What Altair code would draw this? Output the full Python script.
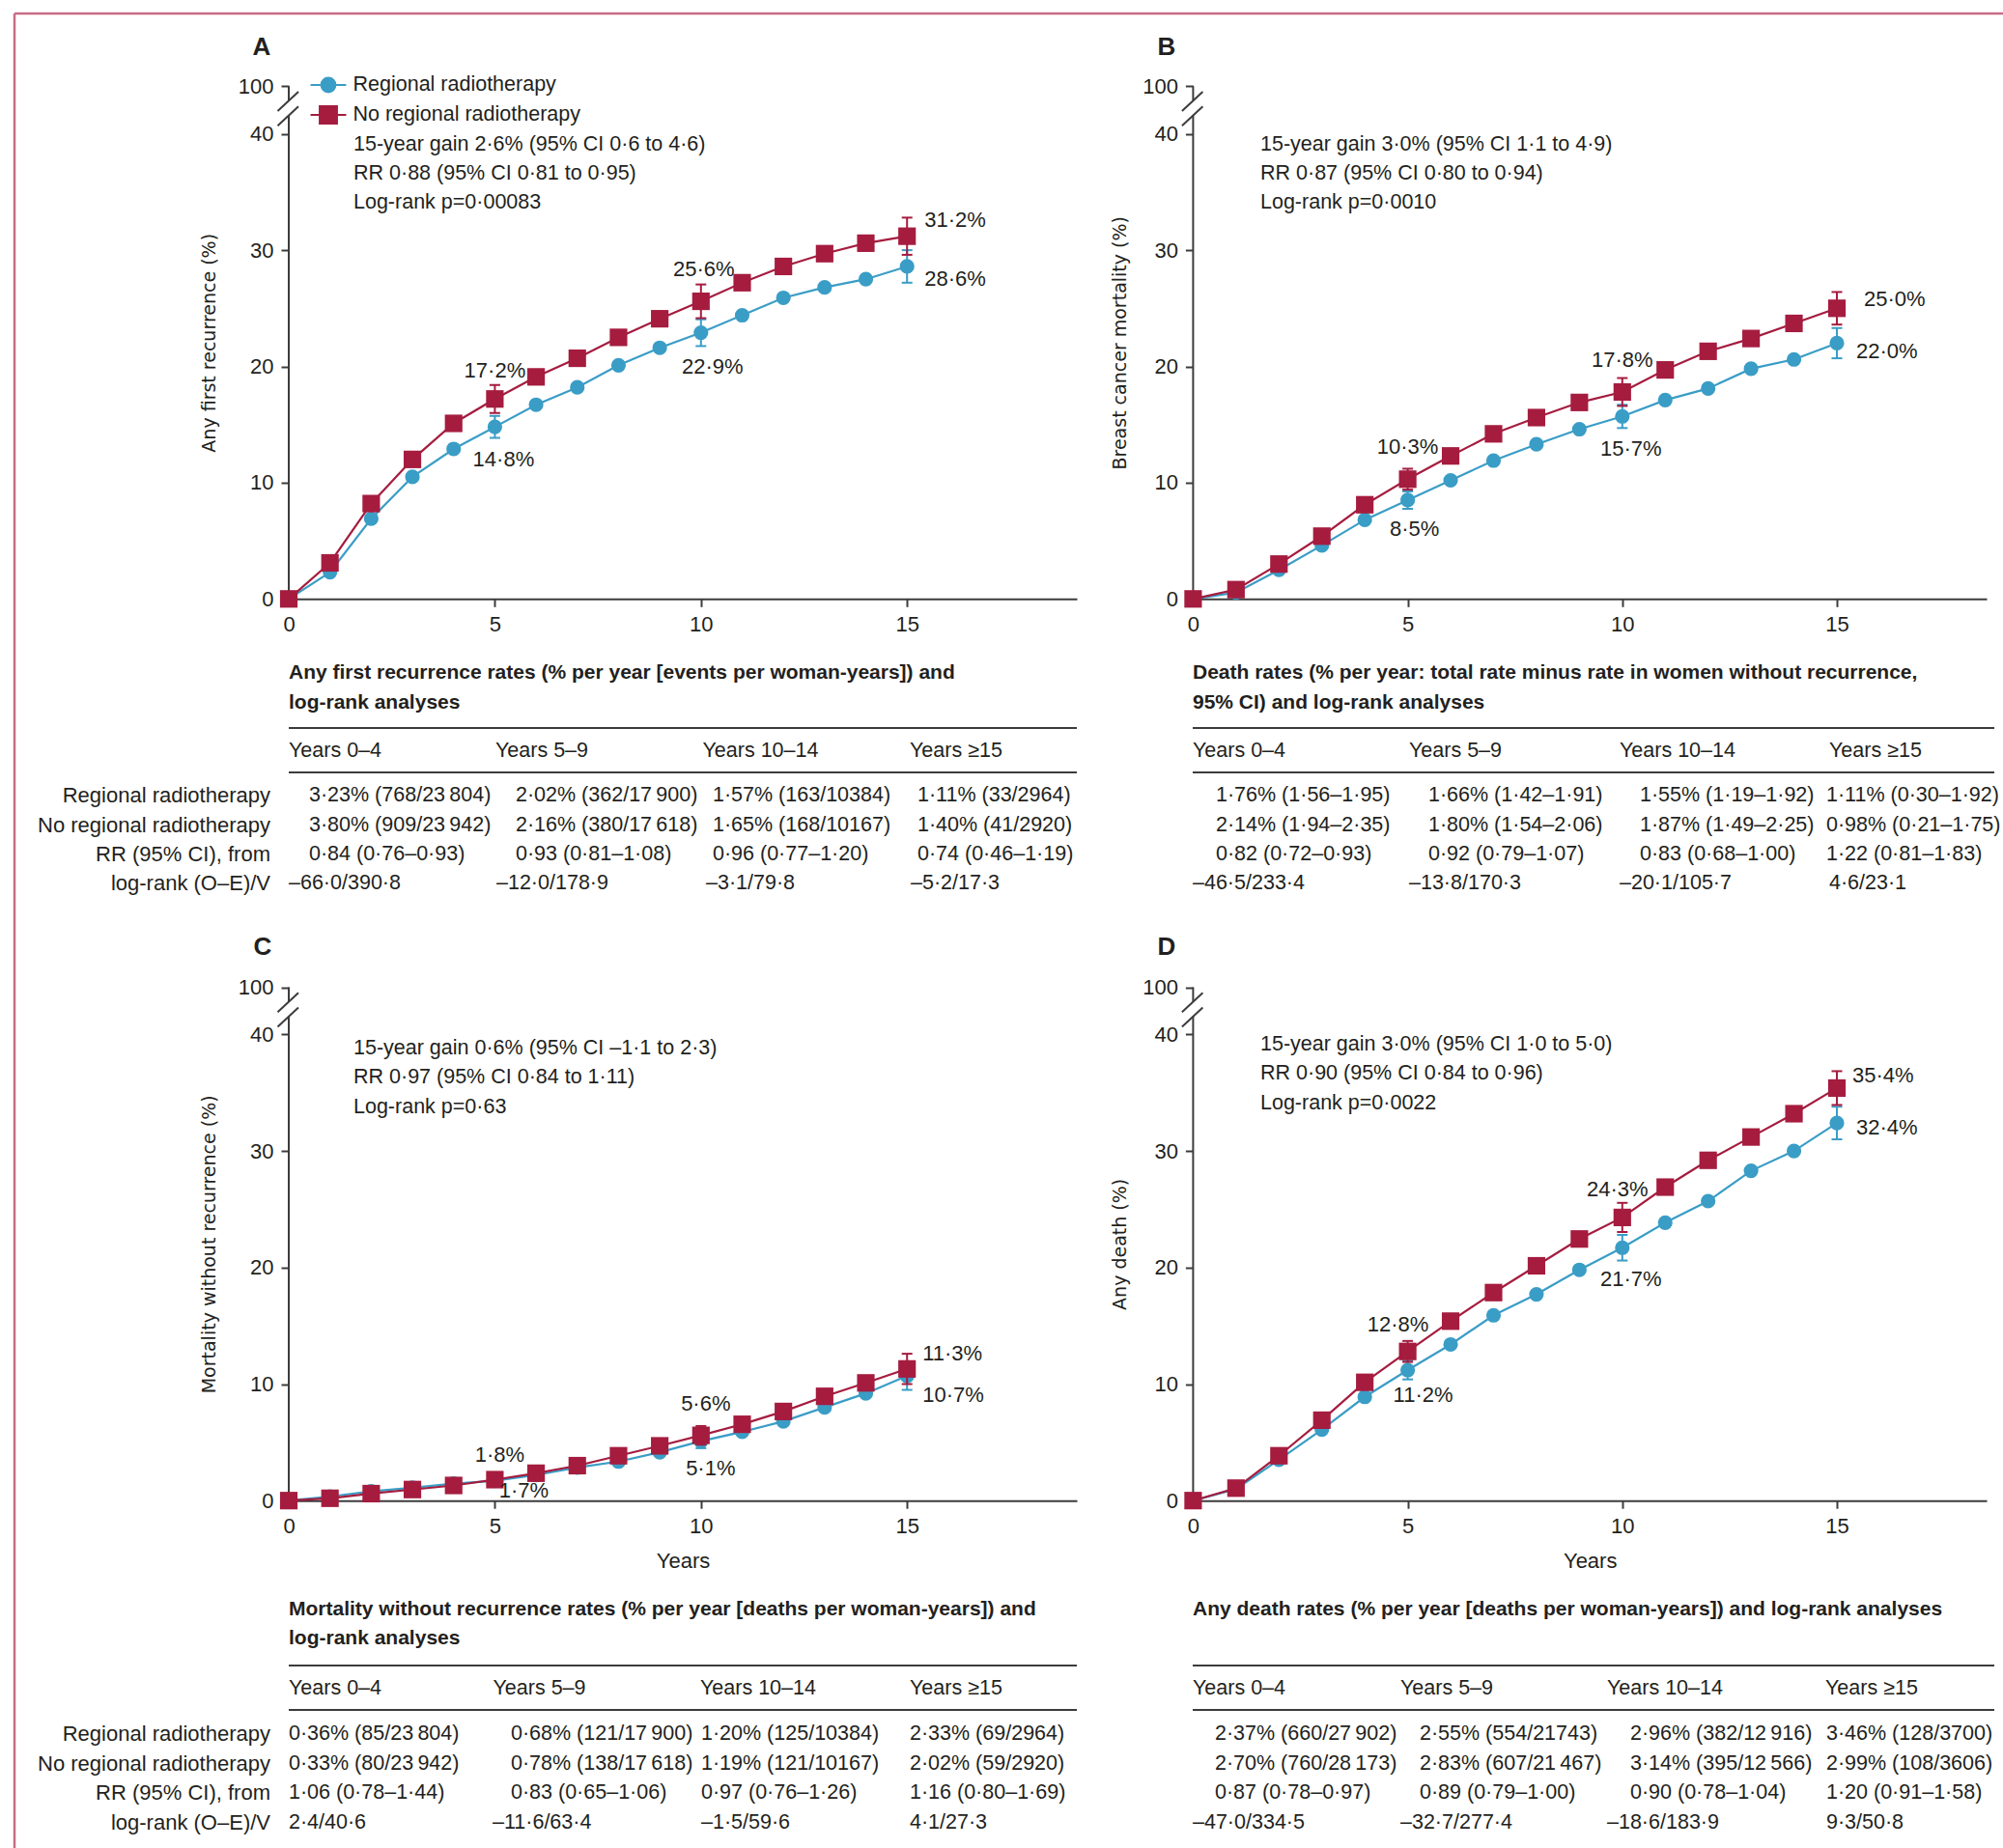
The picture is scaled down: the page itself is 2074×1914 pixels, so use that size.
import altair as alt
import pandas as pd

PAGE_W, PAGE_H = 2074, 1914

SERIES = ["Regional radiotherapy", "No regional radiotherapy"]
BLUE = "#3a9dc6"
RED = "#a51c3f"
SERIES_COLORS = [BLUE, RED]
INK = "#231f20"
AXIS_INK = "#3c3c3c"
BORDER = "#c96b86"
FONT = "Liberation Sans"
YFONT = "DejaVu Sans"

YEARS = list(range(16))
CI_YEARS = [5, 10, 15]

# A: any first recurrence (%)
A_RT = [0, 2.3, 6.9, 10.5, 12.9, 14.8, 16.7, 18.2, 20.1, 21.6, 22.9, 24.4, 25.9, 26.8, 27.5, 28.6]
A_NO = [0, 3.1, 8.2, 12.0, 15.1, 17.2, 19.1, 20.7, 22.5, 24.1, 25.6, 27.2, 28.6, 29.7, 30.6, 31.2]
A_RT_HW = [0.95, 1.15, 1.4]
A_NO_HW = [1.2, 1.45, 1.6]

# B: breast cancer mortality (%)
B_RT = [0, 0.55, 2.5, 4.6, 6.8, 8.5, 10.2, 11.9, 13.3, 14.6, 15.7, 17.1, 18.1, 19.8, 20.6, 22.0]
B_NO = [0, 0.8, 3.0, 5.4, 8.1, 10.3, 12.3, 14.2, 15.6, 16.9, 17.8, 19.7, 21.3, 22.4, 23.7, 25.0]
B_RT_HW = [0.75, 1.0, 1.3]
B_NO_HW = [0.9, 1.2, 1.4]

# C: mortality without recurrence (%)
C_RT = [0, 0.35, 0.8, 1.1, 1.45, 1.7, 2.2, 2.85, 3.35, 4.15, 5.1, 5.9, 6.8, 8.0, 9.2, 10.7]
C_NO = [0, 0.2, 0.6, 0.95, 1.3, 1.8, 2.35, 3.0, 3.85, 4.7, 5.6, 6.55, 7.65, 8.95, 10.1, 11.3]
C_RT_HW = [0.3, 0.6, 1.2]
C_NO_HW = [0.3, 0.8, 1.3]

# D: any death (%)
D_RT = [0, 1.0, 3.5, 6.1, 8.9, 11.2, 13.4, 15.9, 17.7, 19.8, 21.7, 23.85, 25.7, 28.3, 30.0, 32.4]
D_NO = [0, 1.07, 3.85, 6.9, 10.15, 12.8, 15.4, 17.85, 20.15, 22.45, 24.3, 26.9, 29.2, 31.2, 33.2, 35.4]
D_RT_HW = [0.8, 1.1, 1.4]
D_NO_HW = [0.9, 1.25, 1.45]

A_STATS = ["15-year gain 2·6% (95% CI 0·6 to 4·6)", "RR 0·88 (95% CI 0·81 to 0·95)", "Log-rank p=0·00083"]
B_STATS = ["15-year gain 3·0% (95% CI 1·1 to 4·9)", "RR 0·87 (95% CI 0·80 to 0·94)", "Log-rank p=0·0010"]
C_STATS = ["15-year gain 0·6% (95% CI –1·1 to 2·3)", "RR 0·97 (95% CI 0·84 to 1·11)", "Log-rank p=0·63"]
D_STATS = ["15-year gain 3·0% (95% CI 1·0 to 5·0)", "RR 0·90 (95% CI 0·84 to 0·96)", "Log-rank p=0·0022"]

PERIODS = ["Years 0–4", "Years 5–9", "Years 10–14", "Years ≥15"]
ROW_LABELS = ["Regional radiotherapy", "No regional radiotherapy", "RR (95% CI), from", "log-rank (O–E)/V"]

A_TITLE = ["Any first recurrence rates (% per year [events per woman-years]) and", "log-rank analyses"]
A_ROWS = [
    ["3·23% (768/23\u2009804)", "2·02% (362/17\u2009900)", "1·57% (163/10384)", "1·11% (33/2964)"],
    ["3·80% (909/23\u2009942)", "2·16% (380/17\u2009618)", "1·65% (168/10167)", "1·40% (41/2920)"],
    ["0·84 (0·76–0·93)", "0·93 (0·81–1·08)", "0·96 (0·77–1·20)", "0·74 (0·46–1·19)"],
    ["–66·0/390·8", "–12·0/178·9", "–3·1/79·8", "–5·2/17·3"],
]
B_TITLE = ["Death rates (% per year: total rate minus rate in women without recurrence,", "95% CI) and log-rank analyses"]
B_ROWS = [
    ["1·76% (1·56–1·95)", "1·66% (1·42–1·91)", "1·55% (1·19–1·92)", "1·11% (0·30–1·92)"],
    ["2·14% (1·94–2·35)", "1·80% (1·54–2·06)", "1·87% (1·49–2·25)", "0·98% (0·21–1·75)"],
    ["0·82 (0·72–0·93)", "0·92 (0·79–1·07)", "0·83 (0·68–1·00)", "1·22 (0·81–1·83)"],
    ["–46·5/233·4", "–13·8/170·3", "–20·1/105·7", "4·6/23·1"],
]
C_TITLE = ["Mortality without recurrence rates (% per year [deaths per woman-years]) and", "log-rank analyses"]
C_ROWS = [
    ["0·36% (85/23\u2009804)", "0·68% (121/17\u2009900)", "1·20% (125/10384)", "2·33% (69/2964)"],
    ["0·33% (80/23\u2009942)", "0·78% (138/17\u2009618)", "1·19% (121/10167)", "2·02% (59/2920)"],
    ["1·06 (0·78–1·44)", "0·83 (0·65–1·06)", "0·97 (0·76–1·26)", "1·16 (0·80–1·69)"],
    ["2·4/40·6", "–11·6/63·4", "–1·5/59·6", "4·1/27·3"],
]
D_TITLE = ["Any death rates (% per year [deaths per woman-years]) and log-rank analyses"]
D_ROWS = [
    ["2·37% (660/27\u2009902)", "2·55% (554/21743)", "2·96% (382/12\u2009916)", "3·46% (128/3700)"],
    ["2·70% (760/28\u2009173)", "2·83% (607/21\u2009467)", "3·14% (395/12\u2009566)", "2·99% (108/3606)"],
    ["0·87 (0·78–0·97)", "0·89 (0·79–1·00)", "0·90 (0·78–1·04)", "1·20 (0·91–1·58)"],
    ["–47·0/334·5", "–32·7/277·4", "–18·6/183·9", "9·3/50·8"],
]

# ---- page layout (pixels) -------------------------------------------------
GEOM = {
    "A": dict(x0=299, x1=1115, ppx=42.68, y0=620.3, ppy=12.04, top=89.3),
    "B": dict(x0=1235.4, x1=2057, ppx=44.44, y0=620.3, ppy=12.04, top=89.3),
    "C": dict(x0=299, x1=1115, ppx=42.68, y0=1554.2, ppy=12.07, top=1022.5),
    "D": dict(x0=1235.4, x1=2057, ppx=44.44, y0=1554.2, ppy=12.07, top=1022.5),
}
LETTERS = {"A": (271, 49), "B": (1208, 49), "C": (272, 981), "D": (1208, 981)}
STATS_POS = {"A": (366, 149.5), "B": (1305, 149.5), "C": (366, 1086), "D": (1305, 1082)}
STATS_STEP = 30.4
TEXT_SIZE = 21.5

TABLES = {
    "A": dict(title_y=[697, 727.5], rule_y=[754, 800], xl=299, xr=1115, head_y=778,
              row_y=[824, 854.5, 885, 915], head_x=[299, 513, 727.5, 942],
              cell_x=[320, 534, 738, 950], last_x=[299, 514, 731, 943], label_x=280),
    "B": dict(title_y=[697, 727.5], rule_y=[754, 800], xl=1235, xr=2065, head_y=778,
              row_y=[824, 854.5, 885, 915], head_x=[1235, 1459, 1677, 1894],
              cell_x=[1259, 1479, 1698, 1891], last_x=[1235, 1459, 1677, 1894], label_x=None),
    "C": dict(title_y=[1667, 1697], rule_y=[1725, 1771], xl=299, xr=1115, head_y=1749,
              row_y=[1796, 1827, 1857, 1887.5], head_x=[299, 510.5, 725, 942],
              cell_x=[299, 529, 726, 942], last_x=[299, 510, 726, 942], label_x=280),
    "D": dict(title_y=[1667], rule_y=[1725, 1771], xl=1235, xr=2065, head_y=1749,
              row_y=[1796, 1827, 1857, 1887.5], head_x=[1235, 1450, 1664, 1890],
              cell_x=[1258, 1470, 1688, 1891], last_x=[1235, 1450, 1664, 1891], label_x=None),
}

# value-label offsets (dx, dy, align) keyed by (year, series index)
OFFS = {
    "A": {(5, 1): (0, -29, "center"), (5, 0): (9, 34, "center"), (10, 1): (3, -33, "center"),
          (10, 0): (12, 35, "center"), (15, 1): (18, -17, "left"), (15, 0): (18, 13, "left")},
    "B": {(5, 1): (0, -33, "center"), (5, 0): (7, 30, "center"), (10, 1): (0, -33, "center"),
          (10, 0): (9, 34, "center"), (15, 1): (28, -9, "left"), (15, 0): (20, 9, "left")},
    "C": {(5, 1): (5, -25, "center"), (5, 0): (30, 10, "center"), (10, 1): (5, -33, "center"),
          (10, 0): (10, 28, "center"), (15, 1): (16, -16, "left"), (15, 0): (16, 20, "left")},
    "D": {(5, 1): (-10, -28, "center"), (5, 0): (16, 26, "center"), (10, 1): (-5, -29, "center"),
          (10, 0): (9, 33, "center"), (15, 1): (16, -13, "left"), (15, 0): (20, 5, "left")},
}

# legend symbols: a short line through the marker
CIRCLE_PATH = "M-1.42,0H1.42M0.56,0A0.56,0.56,0,1,1,-0.56,0A0.56,0.56,0,1,1,0.56,0Z"
SQUARE_PATH = "M-1.42,0H1.42M-0.68,-0.68H0.68V0.68H-0.68Z"


def pct(v):
    return f"{v:.1f}".replace(".", "·") + "%"


def panel(key, rt, no, hw_rt, hw_no, ytitle, xtitle, title_pad, with_legend=False):
    g = GEOM[key]
    xmax = (g["x1"] - g["x0"]) / g["ppx"]
    ytop = (g["y0"] - g["top"]) / g["ppy"]
    xs = alt.Scale(domain=[0, xmax], range=[g["x0"], g["x1"]], nice=False, zero=False)
    ys = alt.Scale(domain=[0, ytop], range=[g["y0"], g["top"]], nice=False, zero=False)

    x_axis = alt.Axis(orient="bottom", offset=g["y0"] - PAGE_H, values=[0, 5, 10, 15], format="d",
                      labelFlush=False, labelOverlap=False, grid=False,
                      tickSize=8, tickWidth=2, tickColor=AXIS_INK,
                      domainColor=AXIS_INK, domainWidth=2,
                      labelFont=FONT, labelFontSize=22, labelColor=INK, labelPadding=8,
                      titleFont=FONT, titleFontSize=22, titleFontWeight="normal",
                      titleColor=INK, titlePadding=15)
    y_axis = alt.Axis(orient="left", offset=-g["x0"], values=[0, 10, 20, 30, 40, ytop], format="d",
                      labelExpr="datum.value > 41 ? '100' : datum.label",
                      labelOverlap=False, labelFlush=False, grid=False, domain=False,
                      tickSize=8, tickWidth=2, tickColor=AXIS_INK,
                      labelFont=FONT, labelFontSize=22, labelColor=INK, labelPadding=8,
                      titleFont=YFONT, titleFontSize=19, titleFontWeight="normal",
                      titleColor=INK, titlePadding=title_pad)

    def X(f="year", axis=None, **kw):
        return alt.X(f"{f}:Q", scale=xs, axis=axis, **kw)

    def Y(f="risk", axis=None, **kw):
        return alt.Y(f"{f}:Q", scale=ys, axis=axis, **kw)

    curves = pd.DataFrame({
        "year": YEARS * 2,
        "risk": rt + no,
        "series": [SERIES[0]] * len(YEARS) + [SERIES[1]] * len(YEARS),
        "sidx": [0] * len(YEARS) + [1] * len(YEARS),
    })
    err = pd.DataFrame({
        "year": CI_YEARS * 2,
        "lo": [rt[y] - h for y, h in zip(CI_YEARS, hw_rt)] + [no[y] - h for y, h in zip(CI_YEARS, hw_no)],
        "hi": [rt[y] + h for y, h in zip(CI_YEARS, hw_rt)] + [no[y] + h for y, h in zip(CI_YEARS, hw_no)],
        "sidx": [0] * 3 + [1] * 3,
    })
    labels = pd.DataFrame({
        "year": CI_YEARS * 2,
        "risk": [rt[y] for y in CI_YEARS] + [no[y] for y in CI_YEARS],
        "label": [pct(rt[y]) for y in CI_YEARS] + [pct(no[y]) for y in CI_YEARS],
        "sidx": [0] * 3 + [1] * 3,
    })

    layers = []
    # y axis line, interrupted by the scale break
    gap_lo = ytop - 30 / g["ppy"]
    gap_hi = ytop - 14.6 / g["ppy"]
    axis_line = pd.DataFrame({"x": [0, 0], "y": [0, gap_hi], "y2": [gap_lo, ytop]})
    layers.append(alt.Chart(axis_line).mark_rule(color=AXIS_INK, strokeWidth=2).encode(
        x=X("x"), y=Y("y"), y2="y2:Q"))
    slash = pd.DataFrame({
        "x": [-11.5 / g["ppx"]] * 2, "x2": [10 / g["ppx"]] * 2,
        "y": [ytop - 25.7 / g["ppy"], ytop - 41.0 / g["ppy"]],
        "y2": [ytop - 5.7 / g["ppy"], ytop - 21.0 / g["ppy"]],
    })
    layers.append(alt.Chart(slash).mark_rule(color=AXIS_INK, strokeWidth=2).encode(
        x=X("x"), x2="x2:Q", y=Y("y"), y2="y2:Q"))

    # curves; the first one carries both axes
    for s in (0, 1):
        cur = curves[curves.sidx == s]
        if s == 0:
            enc = dict(x=X("year", axis=x_axis, title=xtitle), y=Y("risk", axis=y_axis, title=ytitle))
        else:
            enc = dict(x=X(), y=Y())
        layers.append(alt.Chart(cur).mark_line(strokeWidth=2.2, color=SERIES_COLORS[s]).encode(**enc))

    for s in (0, 1):
        e = err[err.sidx == s]
        col = SERIES_COLORS[s]
        layers.append(alt.Chart(e).mark_rule(strokeWidth=2, color=col).encode(
            x=X(), y=Y("lo"), y2="hi:Q"))
        layers.append(alt.Chart(e).transform_fold(["lo", "hi"], as_=["end", "val"]).mark_tick(
            orient="horizontal", size=11, thickness=2, color=col, opacity=1).encode(
            x=X(), y=Y("val")))
        pts = curves[curves.sidx == s]
        if s == 0:
            mk = alt.Chart(pts).mark_point(shape="circle", filled=True, size=230, color=BLUE, opacity=1)
        else:
            mk = alt.Chart(pts).mark_point(shape="square", filled=True, size=330, color=RED, opacity=1)
        layers.append(mk.encode(x=X(), y=Y()))

    for (yr, s), (dx, dy, align) in OFFS[key].items():
        layers.append(alt.Chart(labels).transform_filter(
            f"datum.year == {yr} && datum.sidx == {s}").mark_text(
            align=align, baseline="middle", dx=dx, dy=dy, font=FONT, fontSize=22, color=INK).encode(
            x=X(), y=Y(), text="label:N"))

    if with_legend:
        leg = alt.Legend(orient="none", legendX=325.5, legendY=73.5, title=None, padding=0,
                         labelFont=FONT, labelFontSize=TEXT_SIZE, labelColor=INK, labelOffset=11,
                         labelLimit=600, symbolSize=676, symbolStrokeWidth=2.2, symbolOpacity=1,
                         rowPadding=4)
        layers.append(alt.Chart(curves).transform_filter("false").mark_point(
            filled=True, size=676, strokeWidth=2.2, opacity=1).encode(
            shape=alt.Shape("series:N", scale=alt.Scale(domain=SERIES, range=[CIRCLE_PATH, SQUARE_PATH]), legend=leg),
            fill=alt.Fill("series:N", scale=alt.Scale(domain=SERIES, range=SERIES_COLORS), legend=leg),
            stroke=alt.Stroke("series:N", scale=alt.Scale(domain=SERIES, range=SERIES_COLORS), legend=leg),
        ))
    return layers


layers = []
layers += panel("A", A_RT, A_NO, A_RT_HW, A_NO_HW, "Any first recurrence (%)", None, 20, with_legend=True)
layers += panel("B", B_RT, B_NO, B_RT_HW, B_NO_HW, "Breast cancer mortality (%)", None, 13)
layers += panel("C", C_RT, C_NO, C_RT_HW, C_NO_HW, "Mortality without recurrence (%)", "Years", 20)
layers += panel("D", D_RT, D_NO, D_RT_HW, D_NO_HW, "Any death (%)", "Years", 13)

# ---- page-positioned text: letters, statistics, tables --------------------
PX = alt.Scale(domain=[0, PAGE_W], range=[0, PAGE_W], nice=False, zero=False)
PY = alt.Scale(domain=[0, PAGE_H], range=[0, PAGE_H], nice=False, zero=False)

regular, right, bold, letters, rules = [], [], [], [], []
for key, stats in zip("ABCD", [A_STATS, B_STATS, C_STATS, D_STATS]):
    sx, sy = STATS_POS[key]
    for i, line in enumerate(stats):
        regular.append((sx, sy + i * STATS_STEP, line))
    lx, ly = LETTERS[key]
    letters.append((lx, ly, key))

for key, title, rows in zip("ABCD", [A_TITLE, B_TITLE, C_TITLE, D_TITLE], [A_ROWS, B_ROWS, C_ROWS, D_ROWS]):
    t = TABLES[key]
    for ty, line in zip(t["title_y"], title):
        bold.append((t["xl"], ty, line))
    for ry in t["rule_y"]:
        rules.append((t["xl"], t["xr"], ry, ry))
    for hx, head in zip(t["head_x"], PERIODS):
        regular.append((hx, t["head_y"], head))
    for r, (ry, cells) in enumerate(zip(t["row_y"], rows)):
        xs_ = t["last_x"] if r == len(rows) - 1 else t["cell_x"]
        for cx, cell in zip(xs_, cells):
            regular.append((cx, ry, cell))
        if t["label_x"] is not None:
            right.append((t["label_x"], ry, ROW_LABELS[r]))


def page_text(rows, align, weight, size):
    df = pd.DataFrame(rows, columns=["px", "py", "txt"])
    return alt.Chart(df).mark_text(align=align, baseline="middle", font=FONT, fontSize=size,
                                   fontWeight=weight, color=INK).encode(
        x=alt.X("px:Q", scale=PX, axis=None), y=alt.Y("py:Q", scale=PY, axis=None), text="txt:N")


rule_df = pd.DataFrame(rules, columns=["px", "px2", "py", "py2"])
border_df = pd.DataFrame({"px": [15, 15], "px2": [PAGE_W, 15], "py": [14, 14], "py2": [14, PAGE_H]})

layers += [
    alt.Chart(border_df).mark_rule(color=BORDER, strokeWidth=2.5).encode(
        x=alt.X("px:Q", scale=PX, axis=None), x2="px2:Q",
        y=alt.Y("py:Q", scale=PY, axis=None), y2="py2:Q"),
    alt.Chart(rule_df).mark_rule(color=AXIS_INK, strokeWidth=2).encode(
        x=alt.X("px:Q", scale=PX, axis=None), x2="px2:Q",
        y=alt.Y("py:Q", scale=PY, axis=None), y2="py2:Q"),
    page_text(regular, "left", "normal", TEXT_SIZE),
    page_text(right, "right", "normal", 22),
    page_text(bold, "left", "bold", 21),
    page_text(letters, "center", "bold", 26),
]

chart = alt.layer(*layers).resolve_scale(
    x="independent", y="independent"
).properties(
    width=PAGE_W, height=PAGE_H, padding=0,
    autosize=alt.AutoSizeParams(type="none"), background="white",
).configure_view(stroke=None)

chart.save("out.html", embed_options={"renderer": "svg", "actions": False})
